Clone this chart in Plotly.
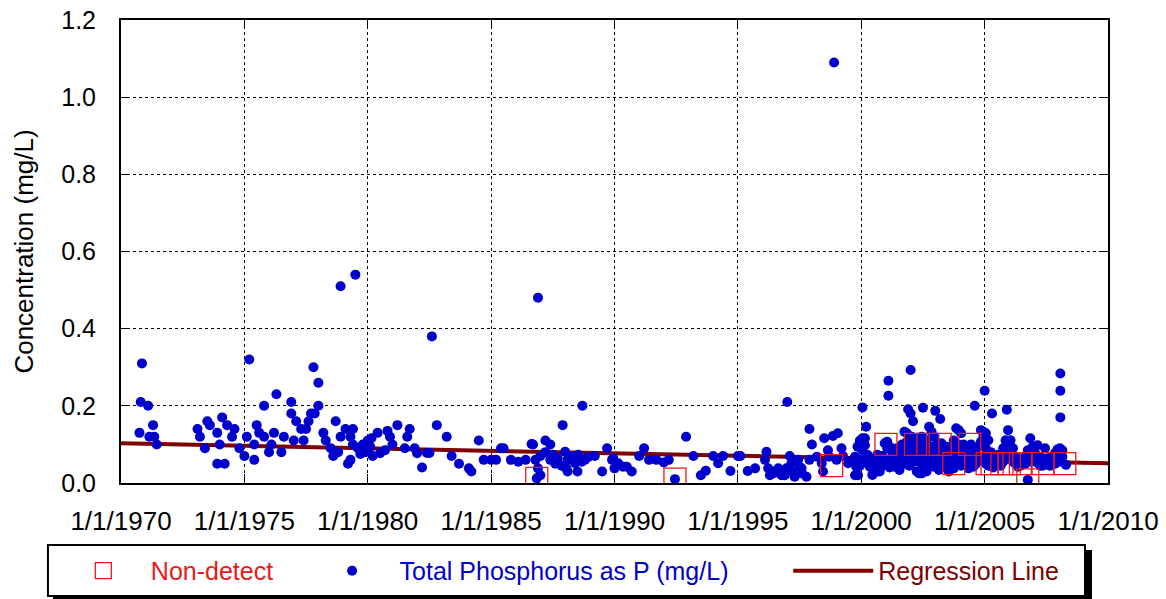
import numpy as np
import pandas as pd
import plotly.graph_objects as go

# ---------------- data (decimal years, mg/L) ----------------
tp_years_1970s = [1970.75, 1970.85, 1970.8, 1971.1, 1971.3, 1971.15, 1971.35, 1971.45,
                  1973.1, 1973.5, 1973.6, 1973.2, 1973.9, 1974.1, 1974.3, 1974.6, 1974.5,
                  1973.4, 1974.0, 1973.9, 1974.2, 1974.8, 1975.0, 1975.1, 1975.2, 1975.4,
                  1975.4, 1975.5, 1975.6, 1975.8, 1975.8, 1976.0, 1976.2, 1976.1, 1976.3,
                  1976.5, 1976.6, 1976.9, 1976.9, 1977.0, 1977.1, 1977.3, 1977.4, 1977.5,
                  1977.6, 1977.7, 1977.85, 1977.8, 1978.0, 1978.0, 1978.2, 1978.3, 1978.5,
                  1978.6, 1978.7, 1978.8, 1978.9, 1978.9, 1979.1, 1979.3, 1979.4, 1979.2,
                  1979.3, 1979.4, 1979.5, 1979.6, 1979.8, 1979.7, 1979.9]
tp_vals_1970s = [0.13, 0.31, 0.21, 0.20, 0.15, 0.12, 0.12, 0.10,
                 0.14, 0.16, 0.15, 0.12, 0.13, 0.17, 0.15, 0.14, 0.12,
                 0.09, 0.10, 0.05, 0.05, 0.09, 0.07, 0.12, 0.32, 0.10,
                 0.06, 0.15, 0.13, 0.12, 0.20, 0.08, 0.13, 0.10, 0.23,
                 0.08, 0.12, 0.21, 0.18, 0.11, 0.16, 0.14, 0.11, 0.14,
                 0.16, 0.18, 0.18, 0.30, 0.26, 0.20, 0.13, 0.11, 0.09,
                 0.07, 0.16, 0.08, 0.12, 0.51, 0.14, 0.12, 0.14, 0.05,
                 0.06, 0.10, 0.54, 0.09, 0.10, 0.075, 0.08]

tp_years_1980s = [1980.0, 1980.0, 1980.1, 1980.15, 1980.2, 1980.4, 1980.5, 1980.7, 1980.8,
                  1980.9, 1981.0, 1981.2, 1981.5, 1981.6, 1981.7, 1981.9, 1982.0, 1982.2,
                  1982.4, 1982.5, 1982.6, 1982.8, 1983.2, 1983.4, 1983.7, 1984.1, 1984.2,
                  1984.5, 1984.7, 1985.0, 1985.2, 1985.4, 1985.5, 1985.8, 1986.1, 1986.4,
                  1986.64, 1986.7, 1986.8, 1986.9, 1986.85, 1987.0, 1986.9, 1987.0, 1987.2,
                  1987.2, 1987.4, 1987.4, 1987.5, 1987.6, 1987.7, 1987.86, 1987.9, 1988.0,
                  1988.05, 1988.1, 1988.26, 1988.4, 1988.53, 1988.67, 1988.7, 1988.8,
                  1988.93, 1989.2, 1989.5, 1989.7, 1989.9, 1988.1, 1988.5]
tp_vals_1980s = [0.085, 0.11, 0.094, 0.116, 0.07, 0.13, 0.077, 0.085, 0.135,
                 0.12, 0.10, 0.15, 0.09, 0.12, 0.14, 0.09, 0.077, 0.04,
                 0.078, 0.078, 0.38, 0.15, 0.12, 0.07, 0.05, 0.038, 0.03,
                 0.11, 0.06, 0.06, 0.06, 0.09, 0.09, 0.06, 0.055, 0.06,
                 0.101, 0.10, 0.06, 0.038, 0.012, 0.02, 0.48, 0.07, 0.11,
                 0.08, 0.10, 0.06, 0.073, 0.05, 0.064, 0.045, 0.15, 0.081,
                 0.038, 0.06, 0.068, 0.051, 0.073, 0.055, 0.20, 0.06,
                 0.067, 0.07, 0.03, 0.09, 0.06, 0.03, 0.03]

tp_years_1990s = [1989.95, 1990.0, 1990.15, 1990.35, 1990.5, 1990.7, 1991.0, 1991.2, 1991.4,
                  1991.7, 1992.0, 1992.2, 1992.45, 1992.9, 1993.2, 1993.5, 1993.7, 1994.0,
                  1994.2, 1994.4, 1994.7, 1995.0, 1995.1, 1995.4, 1995.7, 1996.1, 1996.16,
                  1996.23, 1996.3, 1996.43, 1996.5, 1996.64, 1996.77, 1996.9, 1996.97,
                  1997.0, 1997.1, 1997.17, 1997.2, 1997.3, 1997.44, 1997.5, 1997.58,
                  1997.6, 1997.78, 1997.9, 1998.0, 1997.9, 1998.2, 1998.4, 1998.45,
                  1998.5, 1998.65, 1998.7, 1998.85, 1998.9, 1999.0, 1999.05, 1999.2,
                  1999.26, 1999.47, 1999.67, 1999.8, 1999.87, 1999.94]
tp_vals_1990s = [0.064, 0.038, 0.051, 0.042, 0.042, 0.03, 0.07, 0.09, 0.06,
                 0.06, 0.053, 0.06, 0.01, 0.12, 0.07, 0.02, 0.032, 0.07,
                 0.051, 0.07, 0.031, 0.07, 0.07, 0.031, 0.038, 0.06, 0.081,
                 0.038, 0.02, 0.025, 0.03, 0.038, 0.02, 0.02, 0.038,
                 0.21, 0.07, 0.051, 0.03, 0.016, 0.06, 0.042, 0.038,
                 0.025, 0.016, 0.14, 0.10, 0.06, 0.068, 0.051, 0.03,
                 0.116, 0.085, 0.068, 0.122, 1.09, 0.06, 0.129, 0.09,
                 0.07, 0.051, 0.06, 0.042, 0.02, 0.107]

tp_years_2000s = [1999.75, 1999.75, 1999.85, 1999.85, 1999.95, 1999.95, 1999.95,
                  2000.05, 2000.05, 2000.05, 2000.15, 2000.15, 2000.15, 2000.25, 2000.2,
                  2000.35, 2000.35, 2000.45, 2000.45, 2000.55, 2000.55, 2000.65, 2000.65,
                  2000.75, 2000.75, 2000.85, 2000.85, 2000.95, 2000.95,
                  2001.05, 2001.05, 2001.05, 2001.1, 2001.1, 2001.15, 2001.15, 2001.15,
                  2001.25, 2001.25, 2001.35, 2001.35, 2001.45, 2001.45, 2001.55, 2001.55,
                  2001.65, 2001.65, 2001.75, 2001.75, 2001.75, 2001.85, 2001.85, 2001.85,
                  2001.9, 2001.95, 2001.95, 2001.95, 2002.0, 2002.0, 2002.05, 2002.05,
                  2002.05, 2002.1, 2002.15, 2002.15, 2002.15, 2002.25, 2002.25, 2002.25,
                  2002.35, 2002.35, 2002.35, 2002.45, 2002.45, 2002.45, 2002.5,
                  2002.55, 2002.55, 2002.55, 2002.65, 2002.65, 2002.65, 2002.75, 2002.75,
                  2002.75, 2002.85, 2002.85, 2002.85, 2002.95, 2002.95, 2002.95, 2003.0,
                  2003.05, 2003.05, 2003.15, 2003.15, 2003.15, 2003.2, 2003.25, 2003.25,
                  2003.35, 2003.35, 2003.45, 2003.45, 2003.55, 2003.55, 2003.65, 2003.65,
                  2003.75, 2003.75, 2003.75, 2003.85, 2003.85, 2003.85, 2003.95, 2003.95,
                  2003.95, 2004.05, 2004.05, 2004.05, 2004.15, 2004.15, 2004.25, 2004.25,
                  2004.35, 2004.35, 2004.45, 2004.45, 2004.55, 2004.55, 2004.6, 2004.65,
                  2004.65, 2004.75, 2004.75, 2004.85, 2004.85, 2004.85, 2004.95, 2004.95,
                  2004.95, 2005.0, 2005.05, 2005.05, 2005.05, 2005.15, 2005.15, 2005.15,
                  2005.25, 2005.25, 2005.3, 2005.35, 2005.35, 2005.45, 2005.45, 2005.55,
                  2005.55, 2005.65, 2005.65, 2005.75, 2005.75, 2005.85, 2005.85, 2005.9,
                  2005.95, 2005.95, 2005.95, 2006.05, 2006.05, 2006.15, 2006.15, 2006.25,
                  2006.25, 2006.35, 2006.35, 2006.45, 2006.45, 2006.55, 2006.55, 2006.65,
                  2006.65, 2006.75, 2006.75, 2006.75, 2006.85, 2006.85, 2006.85, 2006.95,
                  2006.95, 2007.05, 2007.05, 2007.15, 2007.15, 2007.25, 2007.25, 2007.35,
                  2007.35, 2007.45, 2007.45, 2007.55, 2007.55, 2007.65, 2007.65, 2007.75,
                  2007.75, 2007.85, 2007.85, 2007.95, 2007.95, 2008.05, 2008.05, 2008.07,
                  2008.07, 2008.07, 2008.15, 2008.15, 2008.3]
tp_vals_2000s = [0.068, 0.02, 0.05, 0.094, 0.06, 0.11, 0.045,
                 0.116, 0.085, 0.196, 0.098, 0.116, 0.055, 0.073, 0.146,
                 0.042, 0.065, 0.021, 0.05, 0.06, 0.04, 0.073, 0.03,
                 0.055, 0.03, 0.045, 0.07, 0.103, 0.06,
                 0.09, 0.107, 0.05, 0.265, 0.226, 0.094, 0.06, 0.04,
                 0.08, 0.05, 0.068, 0.042, 0.09, 0.055, 0.077, 0.034,
                 0.10, 0.06, 0.133, 0.09, 0.05, 0.129, 0.107, 0.068,
                 0.191, 0.111, 0.08, 0.045, 0.293, 0.18, 0.12, 0.07,
                 0.094, 0.16, 0.086, 0.055, 0.116, 0.103, 0.06, 0.03,
                 0.09, 0.07, 0.025, 0.12, 0.05, 0.025, 0.195,
                 0.10, 0.08, 0.04, 0.111, 0.06, 0.03, 0.146, 0.085,
                 0.05, 0.133, 0.094, 0.06, 0.12, 0.073, 0.042, 0.187,
                 0.10, 0.064, 0.09, 0.05, 0.034, 0.166, 0.103, 0.06,
                 0.077, 0.042, 0.094, 0.05, 0.068, 0.03, 0.09, 0.055,
                 0.11, 0.073, 0.038, 0.142, 0.094, 0.06, 0.137, 0.10,
                 0.055, 0.129, 0.085, 0.045, 0.10, 0.068, 0.09, 0.055,
                 0.077, 0.038, 0.10, 0.06, 0.085, 0.042, 0.20, 0.073,
                 0.05, 0.094, 0.06, 0.137, 0.107, 0.068, 0.133, 0.12,
                 0.06, 0.239, 0.129, 0.09, 0.05, 0.111, 0.073, 0.045,
                 0.08, 0.055, 0.18, 0.068, 0.04, 0.06, 0.045, 0.073,
                 0.05, 0.064, 0.045, 0.09, 0.055, 0.111, 0.068, 0.19,
                 0.137, 0.10, 0.073, 0.111, 0.064, 0.09, 0.055, 0.068,
                 0.05, 0.06, 0.042, 0.055, 0.045, 0.06, 0.05, 0.068,
                 0.05, 0.085, 0.06, 0.008, 0.116, 0.085, 0.055, 0.094,
                 0.068, 0.077, 0.055, 0.098, 0.06, 0.068, 0.045, 0.055,
                 0.045, 0.09, 0.06, 0.064, 0.05, 0.06, 0.045, 0.055,
                 0.068, 0.077, 0.05, 0.087, 0.06, 0.09, 0.055, 0.284,
                 0.239, 0.17, 0.085, 0.068, 0.047]

nd_years = [1986.85, 1992.45, 1998.8, 2001.0, 2002.2, 2002.7, 2003.2, 2003.75, 2004.4,
            2005.1, 2005.3, 2005.7, 2006.0, 2006.45, 2006.75, 2007.37, 2008.25]
nd_vals = [0.012, 0.01, 0.045, 0.10, 0.10, 0.10, 0.10, 0.05, 0.10,
           0.05, 0.05, 0.05, 0.05, 0.05, 0.008, 0.05, 0.05]

reg_years = [1970.0, 2010.0]
reg_vals = [0.103, 0.051]

x_tick_dates = ["1970-01-01", "1975-01-01", "1980-01-01", "1985-01-01", "1990-01-01",
                "1995-01-01", "2000-01-01", "2005-01-01", "2010-01-01"]
x_tick_text = ["1/1/1970", "1/1/1975", "1/1/1980", "1/1/1985", "1/1/1990",
               "1/1/1995", "1/1/2000", "1/1/2005", "1/1/2010"]


def to_dates(years):
    out = []
    for y in years:
        yi = int(np.floor(y))
        start = pd.Timestamp(year=yi, month=1, day=1)
        end = pd.Timestamp(year=yi + 1, month=1, day=1)
        out.append(start + (end - start) * (y - yi))
    return out


tp_years = tp_years_1970s + tp_years_1980s + tp_years_1990s + tp_years_2000s
tp_vals = tp_vals_1970s + tp_vals_1980s + tp_vals_1990s + tp_vals_2000s

FONT = "Liberation Sans, Arial, sans-serif"
BLUE = "rgb(0,0,205)"
RED = "rgb(235,25,25)"
DARKRED = "rgb(128,0,0)"

fig = go.Figure()

fig.add_trace(go.Scatter(
    x=to_dates(reg_years), y=reg_vals, mode="lines", name="Regression Line",
    line=dict(color=DARKRED, width=4), legend="legend3", showlegend=True))

fig.add_trace(go.Scatter(
    x=to_dates(tp_years), y=tp_vals, mode="markers", name="Total Phosphorus as P (mg/L)",
    marker=dict(symbol="circle", size=10, color=BLUE, line=dict(width=0)),
    legend="legend2", showlegend=True))

fig.add_trace(go.Scatter(
    x=to_dates(nd_years), y=nd_vals, mode="markers", name="Non-detect",
    marker=dict(symbol="square-open", size=22, color=RED, line=dict(width=1.3, color=RED)),
    legend="legend", showlegend=True))

axis_common = dict(
    showline=True, linecolor="black", linewidth=2, mirror="ticks",
    ticks="inside", ticklen=9, tickcolor="black", tickwidth=1,
    showgrid=True, gridcolor="black", gridwidth=1, griddash="3px,3px",
    zeroline=False, automargin=False, ticklabeloverflow="allow",
)

fig.update_layout(
    width=1166, height=599,
    margin=dict(l=121, r=58, t=20, b=116, autoexpand=False),
    paper_bgcolor="white", plot_bgcolor="white",
    font=dict(family=FONT, color="black"),
    showlegend=True,
    xaxis=dict(type="date", range=["1970-01-01", "2010-01-01"],
               tickmode="array", tickvals=x_tick_dates, ticktext=x_tick_text,
               ticklabelstandoff=14, tickfont=dict(family=FONT, size=26, color="black"),
               **axis_common),
    yaxis=dict(range=[0, 1.2], dtick=0.2, tick0=0, tickformat=".1f",
               ticklabelstandoff=18, tickfont=dict(family=FONT, size=25, color="black"),
               title=dict(text="Concentration (mg/L)", font=dict(family=FONT, size=26, color="black"),
                          standoff=20),
               **axis_common),
    legend=dict(x=-0.066, y=-0.19, xanchor="left", yanchor="middle", orientation="h",
                bgcolor="rgba(0,0,0,0)", borderwidth=0, itemwidth=85,
                font=dict(family=FONT, size=25, color=RED)),
    legend2=dict(x=0.186, y=-0.19, xanchor="left", yanchor="middle", orientation="h",
                 bgcolor="rgba(0,0,0,0)", borderwidth=0, itemwidth=85,
                 font=dict(family=FONT, size=25, color=BLUE)),
    legend3=dict(x=0.676, y=-0.19, xanchor="left", yanchor="middle", orientation="h",
                 bgcolor="rgba(0,0,0,0)", borderwidth=0, itemwidth=80,
                 font=dict(family=FONT, size=25, color=DARKRED)),
    shapes=[
        dict(type="rect", xref="paper", yref="paper", x0=-0.0689, x1=0.9838, y0=-0.2549, y1=-0.1447,
             fillcolor="black", line=dict(width=0), layer="below"),
        dict(type="rect", xref="paper", yref="paper", x0=-0.074, x1=0.9767, y0=-0.244, y1=-0.134,
             fillcolor="white", line=dict(color="black", width=2), layer="below"),
    ],
)

fig.write_html("out.html",
               config={"displayModeBar": False},
               post_script="document.body.style.margin='0';document.body.style.overflow='hidden';")
